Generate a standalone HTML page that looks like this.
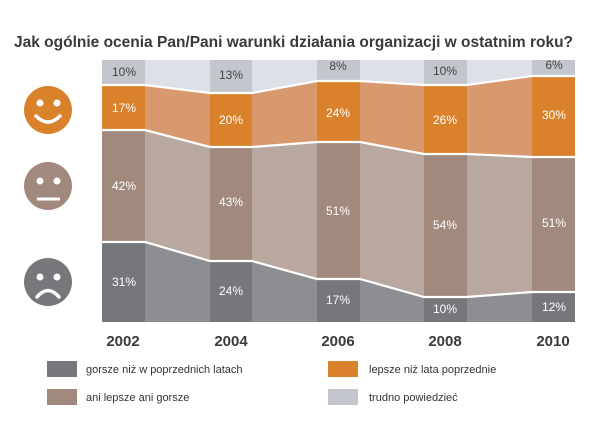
<!DOCTYPE html>
<html><head><meta charset="utf-8"><style>
body{margin:0;background:#fff;width:600px;height:424px;overflow:hidden}
svg{display:block;font-family:"Liberation Sans",sans-serif}
</style></head><body>
<svg width="600" height="424" viewBox="0 0 600 424">
<text x="14" y="47" font-size="15.5" font-weight="bold" fill="#3a3a3a">Jak ogólnie ocenia Pan/Pani warunki działania organizacji w ostatnim roku?</text>
<!-- bands -->
<polygon fill="#dde0e6" points="102,60 575,60 575,76 532,76 467,85 424,85 360,81 317,81 252,93 210,93 145,85 102,85"/>
<polygon fill="#d9996f" points="102,85 145,85 210,93 252,93 317,81 360,81 424,85 467,85 532,76 575,76 575,157 532,157 467,154 424,154 360,142 317,142 252,147 210,147 145,130 102,130"/>
<polygon fill="#b9a89f" points="102,130 145,130 210,147 252,147 317,142 360,142 424,154 467,154 532,157 575,157 575,292 532,292 467,297 424,297 360,279 317,279 252,261 210,261 145,242 102,242"/>
<polygon fill="#8c8e92" points="102,242 145,242 210,261 252,261 317,279 360,279 424,297 467,297 532,292 575,292 575,322 102,322"/>
<!-- bars -->
<g>
<rect x="102" y="60" width="43" height="25" fill="#c3c6cc"/><rect x="102" y="85" width="43" height="45" fill="#d9822b"/><rect x="102" y="130" width="43" height="112" fill="#a18a7d"/><rect x="102" y="242" width="43" height="80" fill="#76777b"/>
<rect x="210" y="60" width="42" height="33" fill="#c3c6cc"/><rect x="210" y="93" width="42" height="54" fill="#d9822b"/><rect x="210" y="147" width="42" height="114" fill="#a18a7d"/><rect x="210" y="261" width="42" height="61" fill="#76777b"/>
<rect x="317" y="60" width="43" height="21" fill="#c3c6cc"/><rect x="317" y="81" width="43" height="61" fill="#d9822b"/><rect x="317" y="142" width="43" height="137" fill="#a18a7d"/><rect x="317" y="279" width="43" height="43" fill="#76777b"/>
<rect x="424" y="60" width="43" height="25" fill="#c3c6cc"/><rect x="424" y="85" width="43" height="69" fill="#d9822b"/><rect x="424" y="154" width="43" height="143" fill="#a18a7d"/><rect x="424" y="297" width="43" height="25" fill="#76777b"/>
<rect x="532" y="60" width="43" height="16" fill="#c3c6cc"/><rect x="532" y="76" width="43" height="81" fill="#d9822b"/><rect x="532" y="157" width="43" height="135" fill="#a18a7d"/><rect x="532" y="292" width="43" height="30" fill="#76777b"/>
</g>
<g fill="none" stroke="#fff" stroke-width="2.2">
<polyline points="102,85 145,85 210,93 252,93 317,81 360,81 424,85 467,85 532,76 575,76"/>
<polyline points="102,130 145,130 210,147 252,147 317,142 360,142 424,154 467,154 532,157 575,157"/>
<polyline points="102,242 145,242 210,261 252,261 317,279 360,279 424,297 467,297 532,292 575,292"/>
</g>
<g font-size="12" text-anchor="middle" fill="#fff">
<g fill="#444"><text x="124" y="76">10%</text><text x="231" y="79">13%</text><text x="338" y="70">8%</text><text x="445" y="75">10%</text><text x="554" y="69">6%</text></g>
<text x="124" y="112">17%</text><text x="231" y="124">20%</text><text x="338" y="117">24%</text><text x="445" y="124">26%</text><text x="554" y="119">30%</text>
<text x="124" y="190">42%</text><text x="231" y="206">43%</text><text x="338" y="215">51%</text><text x="445" y="229">54%</text><text x="554" y="227">51%</text>
<text x="124" y="286">31%</text><text x="231" y="295">24%</text><text x="338" y="304">17%</text><text x="445" y="313">10%</text><text x="554" y="311">12%</text>
</g>
<!-- faces -->
<circle cx="48" cy="110" r="24" fill="#d9822b"/>
<circle cx="40" cy="103" r="3.5" fill="#fff"/><circle cx="57" cy="103" r="3.5" fill="#fff"/>
<path d="M36 116 Q48 128 60 116" fill="none" stroke="#fff" stroke-width="3.5" stroke-linecap="round"/>
<circle cx="48" cy="186" r="24" fill="#a18a7d"/>
<circle cx="40" cy="181" r="3.5" fill="#fff"/><circle cx="57" cy="181" r="3.5" fill="#fff"/>
<line x1="37" y1="199" x2="60" y2="199" stroke="#fff" stroke-width="3"/>
<circle cx="48" cy="282" r="24" fill="#76777b"/>
<circle cx="40" cy="277" r="3.5" fill="#fff"/><circle cx="57" cy="277" r="3.5" fill="#fff"/>
<path d="M37 297 Q48 284 59 297" fill="none" stroke="#fff" stroke-width="3.5" stroke-linecap="round"/>
<!-- years -->
<g font-size="15" font-weight="bold" fill="#3a3a3a" text-anchor="middle">
<text x="123" y="346">2002</text><text x="231" y="346">2004</text><text x="338" y="346">2006</text><text x="445" y="346">2008</text><text x="553" y="346">2010</text>
</g>
<!-- legend -->
<rect x="47" y="361" width="30" height="16" fill="#76777b"/>
<rect x="47" y="389" width="30" height="16" fill="#a18a7d"/>
<rect x="328" y="361" width="30" height="16" fill="#d9822b"/>
<rect x="328" y="389" width="30" height="16" fill="#c3c6cc"/>
<g font-size="11" fill="#333">
<text x="86" y="373">gorsze niż w poprzednich latach</text>
<text x="86" y="401">ani lepsze ani gorsze</text>
<text x="369" y="373">lepsze niż lata poprzednie</text>
<text x="369" y="401">trudno powiedzieć</text>
</g>
</svg>
</body></html>
